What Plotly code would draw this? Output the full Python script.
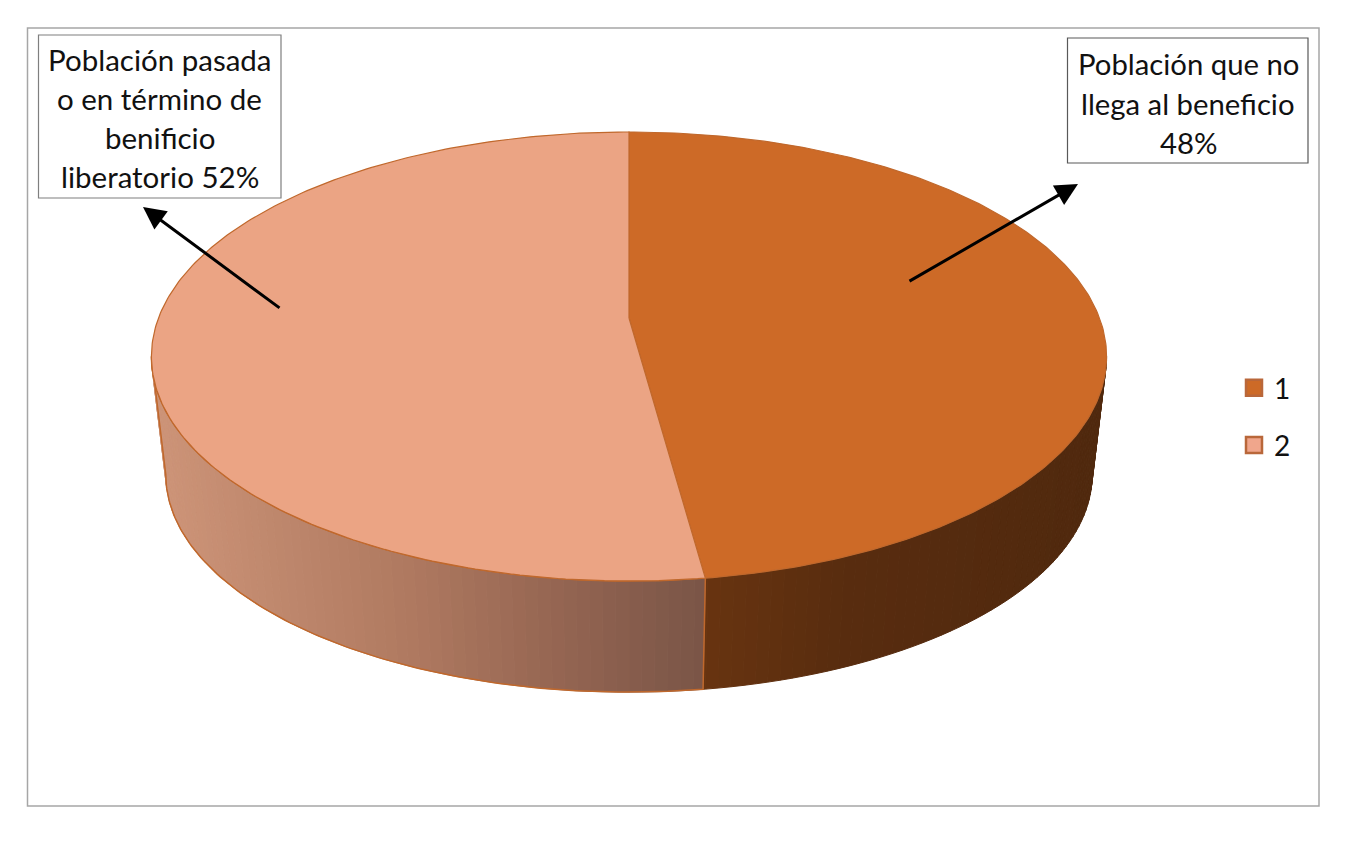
import numpy as np
import plotly.graph_objects as go

# ---- data
categories = ["1", "2"]
shares = [47.85, 52.15]
top_colors = ["#CD6A27", "#EBA484"]
legend_colors = ["#CD6A27", "#F0A68C"]
edge_color = "#C0682C"
left_box_lines = ["Población pasada", "o en término de", "benificio", "liberatorio 52%"]
right_box_lines = ["Población que no", "llega al beneficio", "48%"]

# ---- projection of the 3D pie onto the page
CX, APEX_Y, A, B, K = 629.0, 318.0, 470.5, 217.9, 0.1715
DEPTH_SCALE, BOTTOM_APEX_Y = 0.97, 437.0


def top_pt(theta):
    u, v = np.sin(theta), np.cos(theta)
    w = 1 + K * v
    return CX + A * u / w, APEX_Y - B * v / w


def bot_pt(theta):
    x, y = top_pt(theta)
    return CX + (x - CX) * DEPTH_SCALE, BOTTOM_APEX_Y + (y - APEX_Y) * DEPTH_SCALE


def interp_color(x, stops):
    xs = [s[0] for s in stops]
    rgb = [np.interp(x, xs, [s[1][i] for s in stops]) for i in range(3)]
    return "rgb(%d,%d,%d)" % tuple(int(round(c)) for c in rgb)


pink_stops = [(152, (205, 148, 120)), (400, (176, 122, 97)), (550, (150, 102, 82)), (703, (122, 85, 71))]
dark_stops = [(703, (104, 52, 16)), (850, (88, 44, 15)), (1100, (80, 41, 14))]

fractions = np.array(shares) / sum(shares)
edges = np.concatenate([[0], np.cumsum(fractions)]) * 2 * np.pi
sil_r = np.arccos(-K)
sil_l = 2 * np.pi - sil_r

fig = go.Figure()

# side wall: narrow strips coloured along x
strip_edges = np.unique(np.concatenate([np.linspace(sil_r, sil_l, 121), [edges[1]]]))
for t0, t1 in zip(strip_edges[:-1], strip_edges[1:]):
    x0, y0 = top_pt(t0)
    x1, y1 = top_pt(t1)
    x2, y2 = bot_pt(t1)
    x3, y3 = bot_pt(t0)
    mid = (t0 + t1) / 2
    stops = dark_stops if mid < edges[1] else pink_stops
    col = interp_color(top_pt(mid)[0], stops)
    fig.add_trace(go.Scatter(x=[x0, x1, x2, x3, x0], y=[y0, y1, y2, y3, y0], mode="lines",
                             fill="toself", fillcolor=col, line=dict(color=col, width=1),
                             hoverinfo="skip", showlegend=False))

# side wall outlines
t_side = np.linspace(edges[1], sil_l, 120)
side_x = list(top_pt(t_side)[0]) + list(bot_pt(t_side[::-1])[0])
side_y = list(top_pt(t_side)[1]) + list(bot_pt(t_side[::-1])[1])
fig.add_trace(go.Scatter(x=side_x + side_x[:1], y=side_y + side_y[:1], mode="lines",
                         line=dict(color=edge_color, width=1.5), hoverinfo="skip", showlegend=False))

# top face
for i, name in enumerate(categories):
    t = np.linspace(edges[i], edges[i + 1], 240)
    px, py = top_pt(t)
    xs = [CX] + list(px) + [CX]
    ys = [APEX_Y] + list(py) + [APEX_Y]
    fig.add_trace(go.Scatter(x=xs, y=ys, mode="lines", fill="toself", fillcolor=top_colors[i],
                             line=dict(color=edge_color, width=1.2), hoverinfo="skip",
                             showlegend=False))

# legend
for i, name in enumerate(categories):
    fig.add_trace(go.Scatter(x=[None], y=[None], mode="markers", name=name, legendgroup=name,
                             marker=dict(symbol="square", size=16, color=legend_colors[i],
                                         line=dict(color="#B9673A", width=2.5))))

FONT = "Lato"
shapes = [
    dict(type="rect", xref="x", yref="y", x0=27.5, x1=1319, y0=28, y1=806, layer="below",
         line=dict(color="#A6A6A6", width=1.5), fillcolor="white"),
    dict(type="rect", xref="x", yref="y", x0=38.5, x1=281, y0=35, y1=198,
         line=dict(color="#7F7F7F", width=1.2), fillcolor="white"),
    dict(type="rect", xref="x", yref="y", x0=1067.5, x1=1308, y0=38, y1=163,
         line=dict(color="#595959", width=1.2), fillcolor="white"),
]

annotations = []
for line, y in zip(left_box_lines, [59, 98, 137, 176]):
    annotations.append(dict(x=159.5, y=y, xref="x", yref="y", text=line, showarrow=False,
                            xanchor="center", yanchor="middle",
                            font=dict(family=FONT, size=29.5, color="#111111")))
for line, y in zip(right_box_lines, [63, 103, 142]):
    annotations.append(dict(x=1188, y=y, xref="x", yref="y", text=line, showarrow=False,
                            xanchor="center", yanchor="middle",
                            font=dict(family=FONT, size=29.3, color="#111111")))
for (tx, ty, ax, ay) in [(143, 207, 281, 309), (1078, 184, 908, 282)]:
    annotations.append(dict(x=tx, y=ty, ax=ax, ay=ay, xref="x", yref="y", axref="x", ayref="y",
                            text="", showarrow=True, arrowhead=2, arrowsize=1.5, arrowwidth=3,
                            arrowcolor="#000000", standoff=0, startstandoff=0))

fig.update_layout(
    width=1358, height=846, margin=dict(l=0, r=0, t=0, b=0),
    paper_bgcolor="white", plot_bgcolor="white",
    xaxis=dict(range=[0, 1358], visible=False, fixedrange=True),
    yaxis=dict(range=[846, 0], visible=False, fixedrange=True),
    shapes=shapes, annotations=annotations, showlegend=True,
    legend=dict(x=1234 / 1358, y=1 - 363 / 846, xanchor="left", yanchor="top",
                bgcolor="rgba(0,0,0,0)", tracegroupgap=18, itemwidth=30,
                font=dict(family=FONT, size=28, color="#111111")),
)

fig.write_html("out.html", config={"displayModeBar": False},
               post_script="document.body.style.margin='0';document.documentElement.style.overflow='hidden';")
